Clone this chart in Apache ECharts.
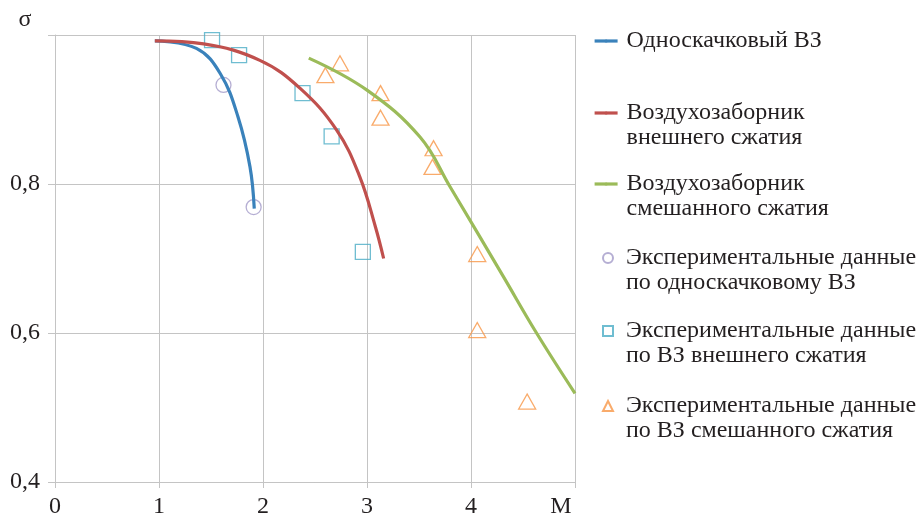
<!DOCTYPE html>
<html>
<head>
<meta charset="utf-8">
<script src="https://cdn.jsdelivr.net/npm/echarts@6/dist/echarts.min.js"></script>
<style>
  html, body { margin: 0; padding: 0; background: #fff; }
  #chart { width: 917px; height: 515px; }
</style>
</head>
<body>
<div id="chart"></div>
<script>
// Tick labels
const xTickLabels = ['0', '1', '2', '3', '4', 'M'];
const yTickLabels = ['0,4', '0,6', '0,8', ''];

// Series names (legend text)
const seriesNames = [
  'Односкачковый ВЗ',
  'Воздухозаборник\nвнешнего сжатия',
  'Воздухозаборник\nсмешанного сжатия',
  'Экспериментальные данные\nпо односкачковому ВЗ',
  'Экспериментальные данные\nпо ВЗ внешнего сжатия',
  'Экспериментальные данные\nпо ВЗ смешанного сжатия'
];

// Calculated curves: Mach number M and pressure recovery σ
const singleShockM     = [0.96, 1.36, 1.59, 1.76, 1.875, 1.916];
const singleShockSigma = [0.992, 0.982, 0.948, 0.890, 0.823, 0.767];

const externalM     = [0.96, 1.43, 1.97, 2.36, 2.71, 2.93, 3.08, 3.16];
const externalSigma = [0.992, 0.988, 0.966, 0.928, 0.872, 0.810, 0.743, 0.700];

const mixedM     = [2.44, 3.00, 3.51, 3.80, 4.31, 4.63, 5.00];
const mixedSigma = [0.969, 0.926, 0.863, 0.796, 0.676, 0.600, 0.519];

// Experimental points
const expSingleM     = [1.62, 1.91];
const expSingleSigma = [0.933, 0.769];

const expExternalM     = [1.51, 1.77, 2.38, 2.66, 2.96];
const expExternalSigma = [0.993, 0.973, 0.922, 0.864, 0.709];

const expMixedM     = [2.74, 2.60, 3.13, 3.13, 3.64, 3.63, 4.06, 4.06, 4.54];
const expMixedSigma = [0.962, 0.946, 0.922, 0.889, 0.848, 0.823, 0.706, 0.604, 0.508];

const zip = (xs, ys) => xs.map((x, i) => [x, ys[i]]);

const FONT = '"Liberation Serif", "DejaVu Serif", serif';
const TEXT = '#231f20';
const GRID = '#c4c4c4';

const colors = ['#3a82bb', '#c0504d', '#9bbb59', '#a29ac8', '#4bacc6', '#f79646'];

// One legend block per series; a blank leading line keeps the first
// text line level with the icon for two-line names
const legendRows = [41, 113, 184, 258, 331, 406];
const legends = seriesNames.map((name, i) => {
  const twoLines = name.indexOf('\n') >= 0;
  const isLine = i < 3;
  return {
    data: [name],
    orient: 'vertical',
    left: isLine ? 593 : 602,
    top: twoLines ? legendRows[i] - 37.5 : legendRows[i] - 12.5,
    padding: 0,
    itemWidth: isLine ? 23 : 10,
    itemHeight: isLine ? 4 : 10,
    itemGap: 0,
    selectedMode: false,
    lineStyle: { width: 3.2 },
    formatter: n => (twoLines ? '\n' : '') + n,
    textStyle: {
      fontFamily: FONT,
      fontSize: 24,
      color: TEXT,
      lineHeight: 25,
      padding: [0, 0, 0, isLine ? 4 : 8]
    }
  };
});

const lineSeries = (name, xs, ys, color) => ({
  name, type: 'line', data: zip(xs, ys),
  smooth: 0.4, symbol: 'none', z: 3,
  lineStyle: { color, width: 3.2 },
  itemStyle: { color }
});

const scatterSeries = (name, xs, ys, color, symbol, size) => ({
  name, type: 'scatter', data: zip(xs, ys),
  symbol, symbolSize: size, z: 2,
  itemStyle: { color: 'rgba(255,255,255,0)', borderColor: color, borderWidth: 1.3 }
});

const chart = echarts.init(document.getElementById('chart'), null, { renderer: 'canvas' });
chart.setOption({
  animation: false,
  backgroundColor: '#fff',
  grid: { left: 55, right: 342, top: 35, bottom: 33, containLabel: false, outerBoundsMode: 'none' },
  legend: legends,
  xAxis: {
    type: 'value', min: 0, max: 5, interval: 1,
    axisLine: { show: true, lineStyle: { color: GRID, width: 1 } },
    axisTick: { show: true, length: 6, lineStyle: { color: GRID } },
    splitLine: { show: true, lineStyle: { color: GRID, width: 1 } },
    axisLabel: {
      fontFamily: FONT, fontSize: 24, color: TEXT, margin: 13,
      formatter: v => {
        const i = Math.round(v);
        return i === xTickLabels.length - 1 ? '{m|' + xTickLabels[i] + '}' : xTickLabels[i];
      },
      rich: { m: { fontFamily: FONT, fontSize: 24, color: TEXT, padding: [0, 28, 0, 0] } }
    }
  },
  yAxis: {
    type: 'value', min: 0.4, max: 1.0, interval: 0.2,
    name: 'σ', nameLocation: 'end', nameGap: 3,
    nameTextStyle: { fontFamily: FONT, fontSize: 24, color: TEXT, align: 'center', padding: [0, 60, 0, 0] },
    axisLine: { show: true, lineStyle: { color: GRID, width: 1 } },
    axisTick: { show: true, length: 7, lineStyle: { color: GRID } },
    splitLine: { show: true, lineStyle: { color: GRID, width: 1 } },
    axisLabel: {
      fontFamily: FONT, fontSize: 24, color: TEXT, margin: 15,
      formatter: v => yTickLabels[Math.round((v - 0.4) / 0.2)]
    }
  },
  series: [
    scatterSeries(seriesNames[3], expSingleM, expSingleSigma, colors[3], 'circle', 15),
    scatterSeries(seriesNames[4], expExternalM, expExternalSigma, colors[4], 'rect', 15),
    scatterSeries(seriesNames[5], expMixedM, expMixedSigma, colors[5], 'triangle', [17, 15]),
    lineSeries(seriesNames[0], singleShockM, singleShockSigma, colors[0]),
    lineSeries(seriesNames[1], externalM, externalSigma, colors[1]),
    lineSeries(seriesNames[2], mixedM, mixedSigma, colors[2])
  ]
});
</script>
</body>
</html>
